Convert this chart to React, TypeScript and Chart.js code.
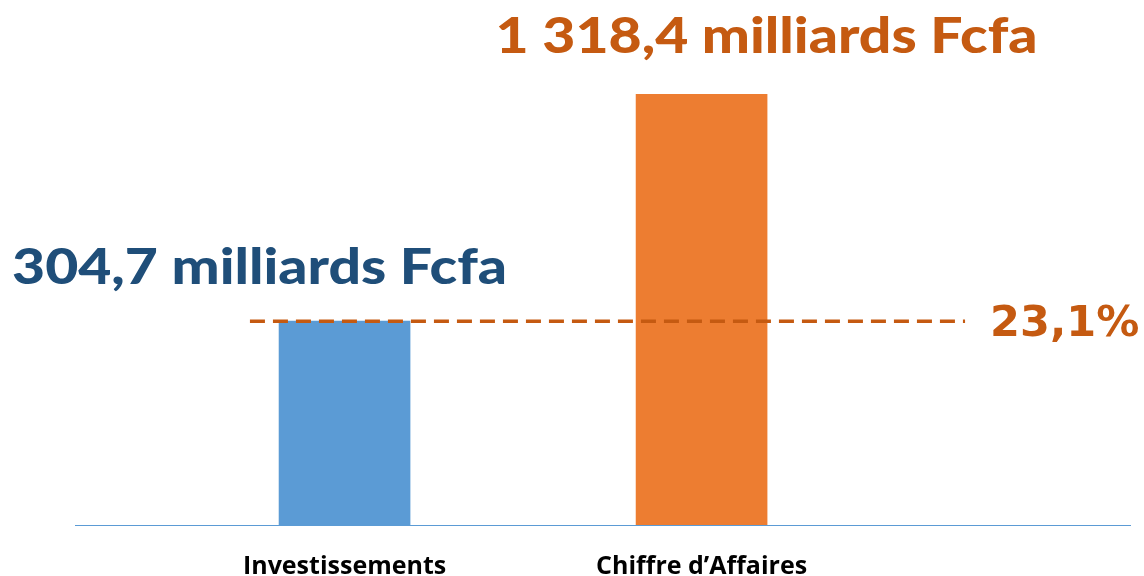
import React, { useEffect, useRef } from "react";
import { Chart, registerables } from "chart.js";

Chart.register(...registerables);

// Categories and values (bar heights in relative units, as drawn in the picture)
const categories = ["Investissements", "Chiffre d\u2019Affaires"];
const categoryPositions = [1, 2];
const barHeights = [47.3, 100];
const valueLabels = ["304,7 milliards Fcfa", "1 318,4 milliards Fcfa"];
const ratioLabel = "23,1%";
const ratioLineExtent = [0.735, 2.738];

const BLUE = "#5B9BD5";
const ORANGE = "#ED7D31";
const DARK_BLUE = "#1F4E79";
const DARK_ORANGE = "#C55A11";

function fitText(
  ctx: CanvasRenderingContext2D,
  text: string,
  centerX: number,
  baseline: number,
  font: string,
  targetWidth: number,
  color: string
) {
  ctx.save();
  ctx.font = font;
  const w = ctx.measureText(text).width;
  const sx = targetWidth / w;
  ctx.translate(centerX, baseline);
  ctx.scale(sx, 1);
  ctx.fillStyle = color;
  ctx.textAlign = "center";
  ctx.textBaseline = "alphabetic";
  ctx.fillText(text, 0, 0);
  ctx.restore();
}

const labelPlugin = {
  id: "valueLabels",
  afterDatasetsDraw(chart: any) {
    const ctx = chart.ctx as CanvasRenderingContext2D;
    const bars = chart.getDatasetMeta(0).data;
    const b1 = bars[0];
    const b2 = bars[1];
    fitText(ctx, valueLabels[0], b1.x - 85, b1.y - 37, "900 50px Lato", 495, DARK_BLUE);
    fitText(ctx, valueLabels[1], b2.x + 65, b2.y - 41, "900 50px Lato", 542, DARK_ORANGE);

    const lineMeta = chart.getDatasetMeta(1).data;
    const end = lineMeta[lineMeta.length - 1];
    ctx.save();
    ctx.font = "bold 43px 'DejaVu Sans'";
    ctx.fillStyle = DARK_ORANGE;
    ctx.textAlign = "left";
    ctx.textBaseline = "alphabetic";
    ctx.fillText(ratioLabel, end.x + 25, end.y + 15);
    ctx.restore();
  },
};

export default function App() {
  const canvasRef = useRef<HTMLCanvasElement | null>(null);

  useEffect(() => {
    const canvas = canvasRef.current;
    if (!canvas) return;
    const chart = new Chart(canvas, {
      type: "bar",
      data: {
        datasets: [
          {
            type: "bar",
            data: categoryPositions.map((x, i) => ({ x, y: barHeights[i] })),
            backgroundColor: [BLUE, ORANGE],
            barThickness: 131,
            order: 2,
          } as any,
          {
            type: "line",
            data: ratioLineExtent.map((x) => ({ x, y: barHeights[0] })),
            borderColor: DARK_ORANGE,
            borderWidth: 3.5,
            borderDash: [15, 8],
            pointRadius: 0,
            fill: false,
            order: 1,
          } as any,
        ],
      },
      options: {
        responsive: false,
        animation: false,
        layout: { padding: { left: 75, right: 14, top: 94, bottom: -33 } },
        plugins: {
          legend: { display: false },
          tooltip: { enabled: false },
        },
        scales: {
          x: {
            type: "linear",
            offset: false,
            min: 0.245,
            max: 3.2,
            grid: { display: false, drawTicks: false },
            border: { display: true, color: BLUE, width: 1 },
            afterBuildTicks: (axis: any) => {
              axis.ticks = categoryPositions.map((v) => ({ value: v }));
            },
            ticks: {
              padding: 27,
              color: "#000000",
              font: { family: "'Open Sans'", weight: "bold", size: 25 },
              callback: (v: any) => {
                const i = categoryPositions.indexOf(Number(v));
                return i >= 0 ? categories[i] : "";
              },
              autoSkip: false,
              maxRotation: 0,
            },
          },
          y: {
            display: false,
            min: 0,
            max: 100,
          },
        },
      },
      plugins: [labelPlugin],
    });
    return () => chart.destroy();
  }, []);

  return (
    <div style={{ position: "fixed", left: 0, top: 0, width: 1144, height: 576, background: "#fff" }}>
      <canvas ref={canvasRef} width={1144} height={576} style={{ display: "block" }} />
    </div>
  );
}
